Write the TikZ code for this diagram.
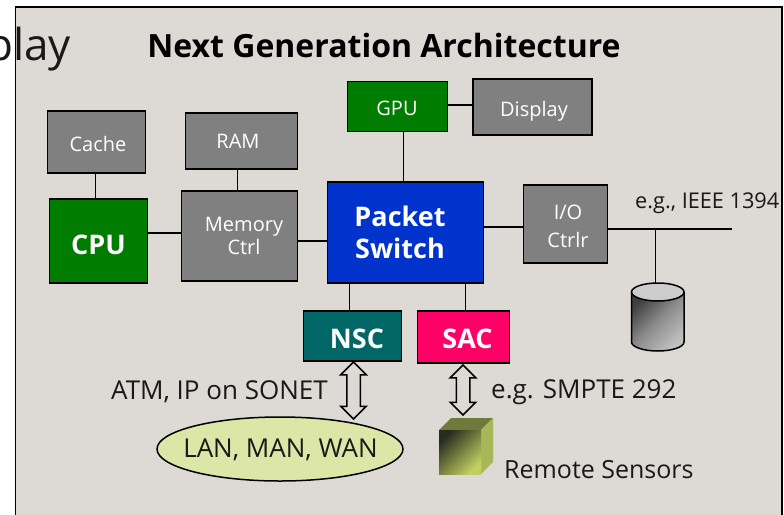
\documentclass[tikz,border=0pt]{standalone}
\usepackage{xcolor}
\usepackage{fontspec}
\setmainfont{Open Sans}
\usepackage{tikz}
\usetikzlibrary{shapes.geometric,shapes.arrows}

\definecolor{slide}{HTML}{DDDAD5}
\definecolor{cpugreen}{HTML}{007C00}
\definecolor{unitgray}{HTML}{808080}
\definecolor{switchblue}{HTML}{0033CC}
\definecolor{nscteal}{HTML}{006666}
\definecolor{sacpink}{HTML}{FF0066}
\definecolor{wanlime}{HTML}{DCE6A6}

\tikzset{
  box/.style={draw=black, line width=1.7pt, inner sep=0pt},
  boxtext/.style={inner sep=0pt, text=white, align=center, font=\fontsize{20}{24}\selectfont},
  boldtext/.style={inner sep=0pt, text=white, align=center, font=\fontsize{27}{32}\bfseries\selectfont},
  link/.style={line width=1.8pt},
  caption/.style={inner sep=0pt, text=black!90, font=\fontsize{26}{30}\selectfont},
  duplex/.style={draw=black, fill=slide, line width=1.5pt, double arrow, rotate=90, inner sep=6pt, double arrow head extend=6pt}
}

\begin{document}
\begin{tikzpicture}[x=1pt,y=-1pt]
% Architecture slide - positions in pixels
\useasboundingbox (0,0) rectangle (784,514);
\filldraw[color=black, fill=slide, line width=1.5pt] (15.5,7) rectangle (782,520);
\node[caption, font=\fontsize{44}{50}\selectfont, anchor=east] (cut) at (71,49) {play};
\node[inner sep=0pt, font=\fontsize{32}{36}\bfseries\selectfont] (title) at (384,45) {Next Generation Architecture};

\coordinate (diskl) at (631.5,292);
\coordinate (diskr) at (684,292);
\coordinate (disktop) at (655.5,283);
\coordinate (busend) at (732,229);

\node[box, fill=unitgray, minimum width=98pt, minimum height=62pt] (cache) at (96.5,142) {};
\node[boxtext] (cachetext) at (98,144) {Cache};
\node[box, fill=cpugreen, minimum width=98pt, minimum height=84pt] (cpu) at (98.5,241) {};
\node[boldtext] (cputext) at (98.5,245) {CPU};
\node[box, fill=unitgray, minimum width=112pt, minimum height=56pt] (ram) at (241.5,141) {};
\node[boxtext] (ramtext) at (238,141) {RAM};
\node[box, fill=unitgray, minimum width=116pt, minimum height=90pt] (mem) at (239.5,236) {};
\node[boxtext] (memtext) at (244,236) {Memory\\[-1pt]Ctrl};
\node[box, fill=switchblue, minimum width=156pt, minimum height=101pt] (switch) at (405.5,232.5) {};
\node[boldtext] (switchtext) at (400,232) {Packet\\Switch};
\node[box, fill=cpugreen, minimum width=100pt, minimum height=50pt] (gpu) at (397.5,106.5) {};
\node[boxtext] (gputext) at (397,108) {GPU};
\node[box, fill=unitgray, minimum width=119pt, minimum height=56pt] (display) at (532.5,107) {};
\node[boxtext] (displaytext) at (534,111) {Display};
\node[box, fill=unitgray, minimum width=84pt, minimum height=78pt] (io) at (565.5,224) {};
\node[boxtext] (iotext) at (568,226) {I/O\\[4pt]Ctrlr};
\node[box, fill=nscteal, minimum width=98pt, minimum height=50pt] (nsc) at (352.5,336) {};
\node[boldtext] (nsctext) at (357,339) {NSC};
\node[box, fill=sacpink, minimum width=92pt, minimum height=52pt] (sac) at (463.5,337) {};
\node[boldtext] (sactext) at (467.5,339) {SAC};
\node[ellipse, draw=black, fill=wanlime, line width=1.5pt, inner sep=0pt, minimum width=246pt, minimum height=64pt] (wan) at (280,449) {};
\node[caption] (wantext) at (280.5,450) {LAN, MAN, WAN};

\draw[link] (cache.south -| 95.5,0) -- (cpu.north -| 95.5,0);
\draw[link] (ram.south -| 237.5,0) -- (mem.north -| 237.5,0);
\draw[link] (cpu.east |- 0,233) -- (mem.west |- 0,233);
\draw[link] (mem.east |- 0,241) -- (switch.west |- 0,241);
\draw[link] (gpu.south -| 403.5,0) -- (switch.north -| 403.5,0);
\draw[link] (gpu.east |- 0,105) -- (display.west |- 0,105);
\draw[link] (switch.east |- 0,227) -- (io.west |- 0,227);
\draw[link] (switch.south -| 349.5,0) -- (nsc.north -| 349.5,0);
\draw[link] (switch.south -| 465.5,0) -- (sac.north -| 465.5,0);
\draw[link] (io.east |- busend) -- (busend);
\draw[link] (disktop |- busend) -- (disktop);

\node[caption, anchor=west, font=\fontsize{21.7}{25}\selectfont] (ieee) at (635,203) {e.g., IEEE 1394};
\node[caption, anchor=east] (atm) at (328,392) {ATM, IP on SONET};
\node[caption, anchor=west] (smpte) at (491,392) {e.g. SMPTE 292};
\node[caption, anchor=west, font=\fontsize{25}{30}\selectfont] (remote) at (504,470) {Remote Sensors};

\node[duplex, minimum height=57pt, minimum width=25pt] (netlink) at (353.5,390.5) {};
\node[duplex, minimum height=50pt, minimum width=23pt] (senslink) at (463,390) {};

% disk
\shade[top color=black!75, bottom color=black!25, middle color=black!45, shading angle=45] (diskl) -- (631.5,342) arc[start angle=180, end angle=360, x radius=26.25pt, y radius=9pt] -- (diskr) -- cycle;
\draw[line width=1.5pt] (diskl) -- (631.5,342) arc[start angle=180, end angle=360, x radius=26.25pt, y radius=9pt] -- (diskr);
\filldraw[color=black, fill=black!20, line width=1.5pt] (657.75,292) ellipse[x radius=26.25pt, y radius=9pt];

% sensor cube
\fill[color={rgb,255:red,111;green,122;blue,58}] (439,430) -- (451,418) -- (493,418) -- (481,430) -- cycle;
\fill[color={rgb,255:red,168;green,184;blue,88}] (481,430) -- (493,418) -- (493,462) -- (481,474) -- cycle;
\shade[top color={rgb,255:red,40;green,44;blue,30}, middle color={rgb,255:red,128;green,140;blue,70}, bottom color={rgb,255:red,192;green,208;blue,96}, shading angle=45] (439,430) rectangle (481,474);
\end{tikzpicture}
\end{document}
